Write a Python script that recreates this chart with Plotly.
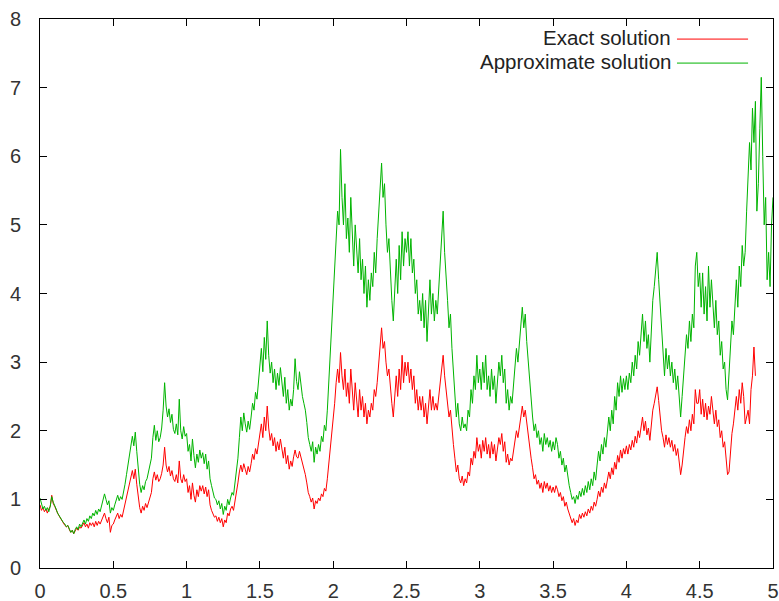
import plotly.graph_objects as go

# time grid step (values below are read every 0.01 along t)
T_STEP = 0.01

# Approximate solution, t = 0.00 .. 5.00
approx = [
    1.02, 0.92, 0.86, 0.90, 0.84, 0.88, 0.82, 0.90, 1.04, 0.96,
    0.92, 0.86, 0.80, 0.76, 0.72, 0.70, 0.66, 0.64, 0.60, 0.62,
    0.56, 0.52, 0.55, 0.50, 0.56, 0.60, 0.56, 0.64, 0.60, 0.66,
    0.70, 0.64, 0.72, 0.68, 0.76, 0.72, 0.80, 0.76, 0.84, 0.78,
    0.86, 0.82, 0.90, 0.96, 1.08, 1.00, 0.92, 0.98, 0.80, 0.88,
    0.84, 0.92, 1.00, 1.06, 0.98, 1.04, 1.00, 1.10, 1.22, 1.36,
    1.50, 1.62, 1.80, 1.92, 1.78, 1.98, 1.70, 1.40, 1.22, 1.10,
    1.20, 1.14, 1.26, 1.30, 1.40, 1.48, 1.60, 1.90, 2.08, 1.86,
    2.00, 1.84, 1.90, 2.04, 2.30, 2.70, 2.36, 2.20, 2.32, 2.12,
    2.24, 2.02, 1.96, 2.10, 1.94, 2.46, 2.00, 1.88, 2.06, 1.92,
    1.96, 1.70, 1.80, 1.56, 1.88, 1.64, 1.46, 1.66, 1.54, 1.72,
    1.60, 1.68, 1.52, 1.66, 1.44, 1.56, 1.30, 1.20, 1.10, 1.02,
    1.00, 0.92, 0.98, 0.86, 0.94, 0.78, 0.90, 0.84, 1.00, 0.92,
    1.02, 1.10, 1.06, 1.22, 1.40, 1.60, 1.90, 2.20, 2.00, 2.26,
    2.10, 1.98, 2.14, 2.02, 2.20, 2.40, 2.30, 2.56, 2.46, 2.70,
    2.90, 3.20, 2.86, 3.36, 3.04, 3.60, 3.10, 2.84, 3.00, 2.70,
    2.90, 2.60, 2.84, 2.66, 2.92, 2.70, 2.50, 2.78, 2.40, 2.60,
    2.30, 2.46, 2.36, 2.60, 3.05, 2.72, 2.60, 2.86, 2.66, 2.50,
    2.40, 2.30, 2.12, 1.90, 1.80, 1.70, 1.84, 1.54, 1.76, 1.66,
    1.80, 1.70, 1.92, 1.84, 2.08, 2.00, 2.30, 2.70, 3.10, 3.50,
    3.80, 4.30, 4.80, 5.20, 5.00, 6.10, 5.40, 5.00, 5.60, 4.80,
    5.10, 4.60, 5.40, 4.80, 4.40, 5.00, 4.70, 4.30, 4.80, 4.20,
    4.50, 4.00, 4.40, 3.80, 4.20, 3.90, 4.30, 4.10, 4.60, 4.30,
    4.80, 5.20, 5.50, 5.90, 5.40, 5.60, 5.00, 4.60, 4.80, 4.20,
    3.90, 3.60, 4.20, 4.50, 4.00, 4.70, 4.20, 4.90, 4.40, 4.80,
    4.60, 4.90, 4.40, 4.80, 4.30, 4.50, 4.00, 4.20, 3.70, 3.90,
    3.60, 4.00, 3.50, 3.90, 3.30, 3.80, 4.20, 3.70, 4.00, 3.60,
    3.90, 3.70, 4.10, 4.50, 4.80, 5.20, 4.60, 4.30, 3.90, 3.50,
    3.70, 3.20, 2.80, 2.50, 2.20, 2.40, 2.10, 2.00, 2.20, 2.04,
    2.10, 2.00, 2.30, 2.20, 2.60, 2.40, 2.80, 2.60, 3.10, 2.70,
    2.90, 2.60, 3.00, 2.70, 3.10, 2.60, 2.80, 2.50, 2.90, 2.60,
    2.80, 2.40, 2.70, 3.00, 2.80, 3.10, 2.70, 2.90, 2.40, 2.60,
    2.30, 2.50, 2.40, 2.70, 2.90, 3.20, 3.00, 3.30, 3.50, 3.80,
    3.50, 3.70, 3.30, 3.00, 2.70, 2.40, 2.20, 2.00, 2.10, 1.90,
    2.00, 1.80, 1.90, 1.70, 1.96, 1.80, 1.90, 1.76, 1.86, 1.70,
    1.84, 1.72, 1.90, 1.80, 1.60, 1.70, 1.50, 1.60, 1.40, 1.50,
    1.30, 1.20, 1.10, 1.00, 1.04, 0.94, 1.06, 1.00, 1.12, 1.04,
    1.16, 1.06, 1.20, 1.10, 1.26, 1.14, 1.30, 1.20, 1.40, 1.28,
    1.50, 1.70, 1.56, 1.80, 1.66, 1.90, 1.76, 2.00, 2.20, 2.00,
    2.30, 2.10, 2.50, 2.30, 2.70, 2.50, 2.80, 2.56, 2.76, 2.60,
    2.80, 2.60, 2.84, 2.70, 3.00, 2.80, 3.10, 2.90, 3.30, 3.10,
    3.40, 3.70, 3.30, 3.60, 3.20, 3.40, 3.00, 3.60, 3.90, 4.10,
    4.30, 4.60, 4.20, 3.80, 3.40, 3.10, 2.80, 3.20, 2.90, 3.10,
    2.80, 3.00, 2.70, 2.90, 2.60, 2.80, 2.40, 2.20, 2.50, 2.80,
    3.10, 3.40, 3.20, 3.60, 3.30, 3.70, 3.50, 4.40, 4.60, 4.10,
    4.30, 3.80, 4.30, 3.70, 4.10, 3.60, 4.40, 3.80, 4.20, 3.90,
    3.50, 3.90, 3.40, 3.60, 3.10, 3.30, 2.90, 3.00, 2.60, 2.45,
    2.80, 3.20, 3.60, 3.40, 3.90, 4.20, 3.80, 4.40, 4.10, 4.70,
    4.40, 4.60, 5.20, 5.60, 6.20, 5.80, 6.70, 6.20, 6.80, 5.20,
    5.60, 6.40, 7.15, 6.00, 5.00, 5.40, 4.20, 4.60, 4.10, 5.00,
    5.40,
]

# Exact solution, t = 0.00 .. 4.88
exact = [
    0.92, 0.84, 0.88, 0.82, 0.86, 0.80, 0.86, 0.90, 1.06, 0.94,
    0.90, 0.84, 0.80, 0.76, 0.72, 0.70, 0.66, 0.62, 0.60, 0.62,
    0.56, 0.52, 0.55, 0.50, 0.54, 0.58, 0.55, 0.60, 0.58, 0.62,
    0.66, 0.60, 0.64, 0.58, 0.66, 0.62, 0.66, 0.60, 0.68, 0.62,
    0.68, 0.64, 0.70, 0.76, 0.80, 0.72, 0.66, 0.74, 0.52, 0.62,
    0.64, 0.70, 0.76, 0.80, 0.72, 0.78, 0.74, 0.84, 0.96, 1.06,
    1.16, 1.22, 1.34, 1.42, 1.30, 1.44, 1.22, 1.00, 0.88, 0.80,
    0.90, 0.84, 0.94, 0.88, 0.96, 1.02, 1.10, 1.30, 1.40, 1.28,
    1.36, 1.26, 1.30, 1.38, 1.50, 1.76, 1.50, 1.40, 1.48, 1.34,
    1.42, 1.30, 1.26, 1.36, 1.24, 1.56, 1.30, 1.24, 1.36, 1.26,
    1.30, 1.10, 1.20, 1.00, 1.24, 1.06, 0.96, 1.14, 1.04, 1.20,
    1.12, 1.20, 1.08, 1.18, 1.04, 1.14, 0.92, 0.84, 0.78, 0.74,
    0.76, 0.68, 0.74, 0.66, 0.72, 0.60, 0.70, 0.66, 0.80, 0.76,
    0.86, 0.90, 0.84, 0.96, 1.10, 1.24, 1.40, 1.50, 1.40, 1.52,
    1.44, 1.36, 1.48, 1.40, 1.52, 1.66, 1.58, 1.74, 1.66, 1.82,
    1.92, 2.10, 1.90, 2.20, 2.00, 2.36, 2.04, 1.86, 1.96, 1.78,
    1.90, 1.70, 1.84, 1.72, 1.88, 1.74, 1.60, 1.76, 1.52, 1.64,
    1.44, 1.56, 1.48, 1.62, 1.72, 1.62, 1.60, 1.70, 1.62, 1.52,
    1.44, 1.36, 1.24, 1.10, 1.04, 0.96, 1.02, 0.86, 0.98, 0.94,
    1.02, 0.98, 1.08, 1.04, 1.16, 1.12, 1.30, 1.50, 1.70, 1.90,
    2.10, 2.40, 2.70, 2.90, 2.70, 3.14, 2.80, 2.60, 2.90, 2.50,
    2.70, 2.40, 2.90, 2.50, 2.30, 2.70, 2.50, 2.20, 2.60, 2.30,
    2.50, 2.20, 2.40, 2.10, 2.30, 2.20, 2.40, 2.30, 2.60, 2.50,
    2.70, 3.00, 3.20, 3.50, 3.20, 3.30, 3.00, 2.80, 2.90, 2.60,
    2.40, 2.20, 2.60, 2.80, 2.50, 2.90, 2.60, 3.10, 2.70, 3.00,
    2.80, 3.00, 2.70, 2.90, 2.60, 2.80, 2.40, 2.60, 2.30, 2.50,
    2.30, 2.50, 2.20, 2.40, 2.10, 2.30, 2.60, 2.30, 2.50, 2.30,
    2.40, 2.30, 2.50, 2.70, 2.90, 3.10, 2.80, 2.60, 2.40, 2.20,
    2.30, 2.00, 1.80, 1.60, 1.40, 1.50, 1.30, 1.24, 1.34, 1.20,
    1.30, 1.24, 1.40, 1.34, 1.60, 1.50, 1.70, 1.60, 1.90, 1.70,
    1.80, 1.60, 1.86, 1.70, 1.90, 1.66, 1.80, 1.60, 1.84, 1.66,
    1.80, 1.56, 1.70, 1.90, 1.80, 1.96, 1.70, 1.84, 1.54, 1.66,
    1.50, 1.60, 1.56, 1.70, 1.86, 2.00, 1.90, 2.10, 2.20, 2.36,
    2.20, 2.30, 2.10, 2.00, 1.80, 1.60, 1.46, 1.30, 1.36, 1.22,
    1.28, 1.16, 1.24, 1.10, 1.26, 1.16, 1.24, 1.12, 1.20, 1.10,
    1.18, 1.10, 1.20, 1.14, 1.04, 1.10, 0.98, 1.04, 0.90, 0.96,
    0.86, 0.80, 0.74, 0.66, 0.72, 0.62, 0.70, 0.66, 0.78, 0.72,
    0.80, 0.74, 0.82, 0.76, 0.86, 0.80, 0.90, 0.84, 0.96, 0.90,
    1.00, 1.12, 1.04, 1.18, 1.10, 1.24, 1.16, 1.30, 1.40, 1.30,
    1.46, 1.36, 1.54, 1.44, 1.64, 1.54, 1.72, 1.60, 1.74, 1.66,
    1.78, 1.66, 1.80, 1.72, 1.86, 1.76, 1.92, 1.82, 2.00, 1.90,
    2.04, 2.20, 2.00, 2.14, 1.94, 2.04, 1.86, 2.10, 2.30, 2.40,
    2.50, 2.64, 2.44, 2.20, 2.00, 1.90, 1.76, 1.94, 1.80, 1.90,
    1.76, 1.86, 1.70, 1.80, 1.64, 1.74, 1.50, 1.36, 1.50, 1.74,
    1.90, 2.06, 1.96, 2.16, 2.00, 2.24, 2.10, 2.60, 2.40, 2.40,
    2.60, 2.24, 2.46, 2.20, 2.40, 2.16, 2.36, 2.24, 2.50, 2.30,
    2.10, 2.30, 2.06, 2.16, 1.90, 2.00, 1.76, 1.84, 1.60, 1.36,
    1.40, 1.70, 1.96, 2.10, 2.30, 2.50, 2.30, 2.60, 2.40, 2.70,
    2.50, 2.10, 2.20, 2.30, 2.10, 2.60, 2.80, 3.22, 2.80,
]

legend_labels = ["Exact solution", "Approximate solution"]
colors = ["#ff0000", "#00b400"]

t_approx = [round(i * T_STEP, 2) for i in range(len(approx))]
t_exact = [round(i * T_STEP, 2) for i in range(len(exact))]

FONT = "Liberation Sans"

fig = go.Figure()
fig.add_trace(go.Scatter(x=t_exact, y=exact, mode="lines",
                         line=dict(color=colors[0], width=1),
                         name=legend_labels[0], showlegend=False))
fig.add_trace(go.Scatter(x=t_approx, y=approx, mode="lines",
                         line=dict(color=colors[1], width=1),
                         name=legend_labels[1], showlegend=False))

axis_common = dict(
    showgrid=False, zeroline=False, showline=True, linecolor="#000000",
    linewidth=1, mirror="ticks", ticks="inside", ticklen=7,
    tickcolor="#000000", tickwidth=1, automargin=False,
    tickfont=dict(family=FONT, size=20, color="#333333"),
)
fig.update_xaxes(range=[0, 5], dtick=0.5, tick0=0, ticklabelstandoff=5,
                 **axis_common)
fig.update_yaxes(range=[0, 8], dtick=1, tick0=0, ticklabelstandoff=14,
                 **axis_common)

# gnuplot-style key: right-aligned text with line sample to its right
key_rows_y = [0.9654, 0.9217]
for label, col, yy in zip(legend_labels, colors, key_rows_y):
    fig.add_annotation(x=0.8636, y=yy, xref="paper", yref="paper",
                       text=label, showarrow=False, xanchor="right",
                       yanchor="middle",
                       font=dict(family=FONT, size=20.5, color="#222222"))
    fig.add_shape(type="line", xref="paper", yref="paper",
                  x0=0.869, x1=0.966, y0=yy - 0.002, y1=yy - 0.002,
                  line=dict(color=col, width=1))

fig.update_layout(
    width=779, height=601,
    margin=dict(l=40, r=6, t=19, b=33),
    paper_bgcolor="white", plot_bgcolor="white",
    font=dict(family=FONT),
    hovermode=False,
)

fig.write_html(
    "out.html",
    config={"displayModeBar": False},
    post_script="document.body.style.margin='0';"
                "document.body.style.overflow='hidden';",
)
